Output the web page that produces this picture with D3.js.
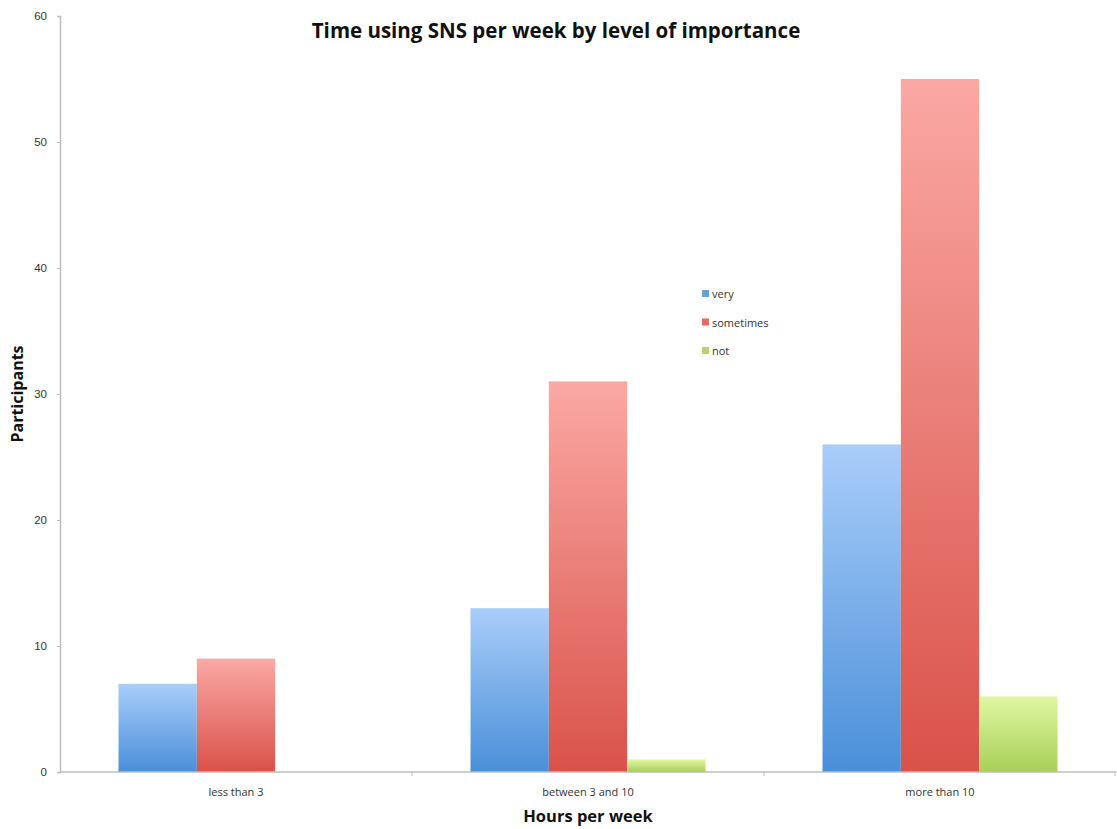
<!DOCTYPE html>
<html>
<head>
<meta charset="utf-8">
<script src="https://cdn.jsdelivr.net/npm/d3@7"></script>
<style>
  html, body { margin: 0; padding: 0; background: #fff; }
  svg { display: block; font-family: "Open Sans", "Noto Sans", sans-serif; }
</style>
</head>
<body>
<svg id="chart" width="1117" height="829"></svg>
<script>
// Hours-per-week categories and participant counts by importance level
const categories = ["less than 3", "between 3 and 10", "more than 10"];
const seriesNames = ["very", "sometimes", "not"];
const veryValues = [7, 13, 26];
const sometimesValues = [9, 31, 55];
const notValues = [0, 1, 6];
const yTicks = [0, 10, 20, 30, 40, 50, 60];

const seriesValues = { very: veryValues, sometimes: sometimesValues, not: notValues };
const rows = categories.map((c, i) => ({
  category: c,
  values: seriesNames.map(s => ({ key: s, value: seriesValues[s][i] }))
}));

const svg = d3.select("#chart");
const margin = { left: 60, right: 1, top: 16, bottom: 57 };
const W = 1117, H = 829;

const x0 = d3.scaleBand().domain(categories).range([margin.left, W - margin.right]).padding(0);
const x1 = d3.scaleBand().domain(seriesNames).range([0, x0.bandwidth()]).paddingInner(0).paddingOuter(0.747);
const y = d3.scaleLinear().domain([0, 60]).range([H - margin.bottom, margin.top]);

// vertical gradients for each series
const colors = {
  very: ["#a9cdfa", "#4a8fd9"],
  sometimes: ["#fba8a4", "#d9524a"],
  not: ["#e0f7a2", "#a8cf57"]
};
const defs = svg.append("defs");
seriesNames.forEach(s => {
  const g = defs.append("linearGradient").attr("id", "grad-" + s)
    .attr("x1", 0).attr("y1", 0).attr("x2", 0).attr("y2", 1);
  g.append("stop").attr("offset", "0%").attr("stop-color", colors[s][0]);
  g.append("stop").attr("offset", "100%").attr("stop-color", colors[s][1]);
});

// bars
const groups = svg.append("g").selectAll("g").data(rows).join("g")
  .attr("transform", d => `translate(${x0(d.category)},0)`);
groups.selectAll("rect").data(d => d.values.filter(v => v.value > 0)).join("rect")
  .attr("x", d => x1(d.key))
  .attr("width", x1.bandwidth())
  .attr("y", d => y(d.value))
  .attr("height", d => y(0) - y(d.value))
  .attr("fill", d => `url(#grad-${d.key})`);

// y axis
const yAxis = svg.append("g").attr("transform", `translate(${margin.left},0)`)
  .call(d3.axisLeft(y).tickValues(yTicks).tickSize(3).tickPadding(10).tickFormat(d3.format("d")));
yAxis.select(".domain").attr("stroke", "#bdbdbd").attr("stroke-width", 1.5);
yAxis.selectAll(".tick line").attr("stroke", "#bdbdbd");
yAxis.selectAll(".tick text").attr("fill", "#333").attr("font-size", 11.5);

// x axis with ticks at category boundaries
const xAxisG = svg.append("g").attr("transform", `translate(0,${y(0)})`);
xAxisG.append("line").attr("x1", margin.left).attr("x2", W - margin.right)
  .attr("stroke", "#bdbdbd").attr("stroke-width", 1.5);
xAxisG.selectAll("line.sep").data(categories.slice(1).concat(["__end"])).join("line")
  .attr("class", "sep")
  .attr("x1", d => d === "__end" ? W - margin.right - 1 : x0(d))
  .attr("x2", d => d === "__end" ? W - margin.right - 1 : x0(d))
  .attr("y1", 0).attr("y2", 4)
  .attr("stroke", "#bdbdbd");
xAxisG.selectAll("text").data(categories).join("text")
  .attr("x", d => x0(d) + x0.bandwidth() / 2)
  .attr("y", 24)
  .attr("text-anchor", "middle")
  .attr("font-size", 11)
  .attr("fill", "#333")
  .text(d => d);

// title and axis titles
svg.append("text").attr("x", 556).attr("y", 38).attr("text-anchor", "middle")
  .attr("font-size", 20.5).attr("font-weight", "bold").attr("fill", "#111")
  .text("Time using SNS per week by level of importance");
svg.append("text").attr("x", 588).attr("y", 822).attr("text-anchor", "middle")
  .attr("font-size", 16.5).attr("font-weight", "bold").attr("fill", "#111")
  .text("Hours per week");
svg.append("text").attr("transform", "translate(23,394) rotate(-90)").attr("text-anchor", "middle")
  .attr("font-size", 16).attr("font-weight", "bold").attr("fill", "#111")
  .text("Participants");

// legend
const legend = svg.append("g").attr("transform", "translate(702,294)");
const li = legend.selectAll("g").data(seriesNames).join("g")
  .attr("transform", (d, i) => `translate(0,${i * 28.5})`);
li.append("rect").attr("x", 0).attr("y", -4).attr("width", 7).attr("height", 7)
  .attr("fill", d => colors[d][1]).attr("opacity", 0.85);
li.append("text").attr("x", 10).attr("y", 4).attr("font-size", 11).attr("fill", "#333").text(d => d);
</script>
</body>
</html>
